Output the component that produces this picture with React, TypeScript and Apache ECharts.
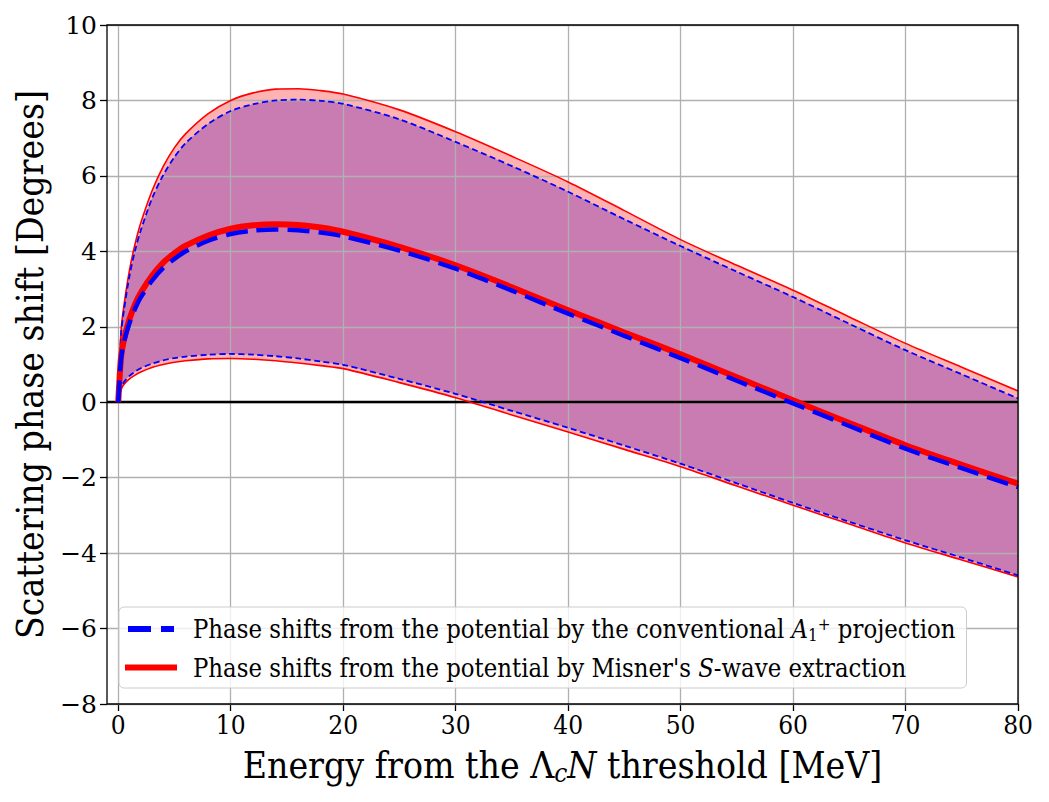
import React, { useEffect, useRef } from "react";
import * as echarts from "echarts";

// Energy above the Lambda_c N threshold [MeV]
const energy = [0, 0.25, 0.5, 1, 1.5, 2, 3, 4, 5, 6, 8, 10, 12, 14, 16, 18, 20, 25, 30, 35, 40, 45, 50, 55, 60, 65, 70, 75, 80];

// Misner S-wave extraction: central value and error band [deg]
const misnerCentral = [0, 1.2, 1.65, 2.2, 2.6, 2.9, 3.35, 3.7, 3.95, 4.15, 4.42, 4.6, 4.69, 4.72, 4.7, 4.63, 4.52, 4.12, 3.63, 3.05, 2.44, 1.85, 1.27, 0.66, 0.05, -0.55, -1.14, -1.66, -2.16];
const misnerUpper = [0, 1.9, 2.55, 3.5, 4.2, 4.75, 5.6, 6.25, 6.75, 7.12, 7.65, 8.0, 8.2, 8.3, 8.31, 8.26, 8.17, 7.75, 7.17, 6.52, 5.84, 5.08, 4.31, 3.63, 2.97, 2.26, 1.56, 0.93, 0.3];
const misnerLower = [0, 0.33, 0.47, 0.62, 0.72, 0.8, 0.92, 1.0, 1.06, 1.1, 1.15, 1.16, 1.14, 1.1, 1.04, 0.97, 0.89, 0.52, 0.12, -0.34, -0.79, -1.25, -1.71, -2.22, -2.73, -3.23, -3.73, -4.18, -4.63];

// Conventional A1+ projection: central value and error band [deg]
const conventionalCentral = [0, 1.15, 1.58, 2.1, 2.48, 2.78, 3.22, 3.56, 3.8, 4.0, 4.28, 4.46, 4.55, 4.58, 4.56, 4.5, 4.4, 4.02, 3.54, 2.96, 2.35, 1.76, 1.17, 0.57, -0.03, -0.63, -1.23, -1.75, -2.25];
const conventionalUpper = [0, 1.8, 2.42, 3.35, 4.03, 4.55, 5.4, 6.02, 6.5, 6.87, 7.38, 7.72, 7.9, 8.0, 8.02, 7.99, 7.91, 7.5, 6.9, 6.26, 5.58, 4.85, 4.14, 3.46, 2.79, 2.08, 1.38, 0.74, 0.1];
const conventionalLower = [0, 0.38, 0.53, 0.7, 0.81, 0.9, 1.02, 1.11, 1.17, 1.21, 1.26, 1.28, 1.26, 1.22, 1.16, 1.08, 0.99, 0.62, 0.22, -0.23, -0.68, -1.15, -1.63, -2.15, -2.67, -3.17, -3.66, -4.12, -4.59];

const xTicks = [0, 10, 20, 30, 40, 50, 60, 70, 80];
const yTicks = [-8, -6, -4, -2, 0, 2, 4, 6, 8, 10];

const CONV = "Phase shifts from the potential by the conventional A1+ projection";
const MISNER = "Phase shifts from the potential by Misner's S-wave extraction";

const SERIF_C = '"DejaVu Serif Condensed", "DejaVu Serif", serif';
const SERIF = '"DejaVu Serif", serif';

const SMOOTH = 0.3;

const pairs = (ys: number[]) => energy.map((e, i) => [e, ys[i]]);

// Band as a stacked pair: the phase shift goes in the first column so the
// stack is taken along y, the energy goes in the second column.
function bandSeries(stack: string, lo: number[], hi: number[], color: string) {
  const common = {
    type: "line",
    stack,
    stackStrategy: "all",
    encode: { x: 1, y: 0 },
    symbol: "none",
    smooth: SMOOTH,
    silent: true,
    z: 1,
    lineStyle: { width: 0, opacity: 0 },
  };
  return [
    { ...common, name: stack + "-base", data: energy.map((e, i) => [lo[i], e]) },
    {
      ...common,
      name: stack + "-width",
      data: energy.map((e, i) => [hi[i] - lo[i], e]),
      areaStyle: { color, opacity: 0.3 },
    },
  ];
}

function curve(name: string, ys: number[], color: string, width: number, type: any, z: number) {
  return {
    type: "line",
    name,
    data: pairs(ys),
    symbol: "none",
    smooth: SMOOTH,
    silent: true,
    z,
    color,
    lineStyle: { color, width, type },
  };
}

export default function App() {
  const ref = useRef<HTMLDivElement>(null);

  useEffect(() => {
    if (!ref.current) return;
    const chart = echarts.init(ref.current, undefined, { renderer: "svg" });

    const option: any = {
      animation: false,
      backgroundColor: "#ffffff",
      grid: {
        left: 107,
        top: 25,
        width: 911,
        height: 679,
        show: true,
        z: 10,
        backgroundColor: "transparent",
        borderColor: "#000000",
        borderWidth: 1.3,
      },
      xAxis: {
        type: "value",
        min: -1,
        max: 80,
        axisLine: { show: false, onZero: false },
        splitLine: { show: false },
        axisTick: {
          show: true,
          customValues: xTicks,
          length: 7,
          lineStyle: { color: "#000", width: 1.3 },
        },
        axisLabel: {
          customValues: xTicks,
          margin: 8,
          color: "#000",
          fontFamily: SERIF_C,
          fontSize: 26,
        },
        name: "Energy from the {g|Λ}{sub|c}{it|N} threshold [MeV]",
        nameLocation: "middle",
        nameGap: 40,
        nameTextStyle: {
          color: "#000",
          fontFamily: SERIF_C,
          fontSize: 37,
          rich: {
            g: { fontFamily: SERIF_C, fontSize: 37, color: "#000" },
            sub: { fontFamily: SERIF_C, fontSize: 26, fontStyle: "italic", color: "#000", verticalAlign: "bottom", padding: [16, 0, 0, 0] },
            it: { fontFamily: SERIF_C, fontSize: 37, fontStyle: "italic", color: "#000" },
          },
        },
      },
      yAxis: {
        type: "value",
        min: -8,
        max: 10,
        interval: 2,
        axisLine: { show: false, onZero: false },
        splitLine: { show: false },
        axisTick: { show: true, length: 7, lineStyle: { color: "#000", width: 1.3 } },
        axisLabel: {
          margin: 10,
          color: "#000",
          fontFamily: SERIF,
          fontSize: 25,
          formatter: (v: number) => (v < 0 ? "\u2212" + Math.abs(v) : String(v)),
        },
        name: "Scattering phase shift [Degrees]",
        nameLocation: "middle",
        nameRotate: 90,
        nameGap: 55,
        nameTextStyle: { color: "#000", fontFamily: SERIF_C, fontSize: 37 },
      },
      legend: {
        orient: "vertical",
        left: 119,
        top: 607,
        selectedMode: false,
        data: [
          { name: CONV, icon: "path://M0,0h23v6h-23z M33,0h13v6h-13z" },
          { name: MISNER, icon: "path://M0,0h52v6h-52z" },
        ],
        itemWidth: 52,
        itemHeight: 6,
        itemGap: 12,
        padding: [8, 11, 8, 6],
        backgroundColor: "rgba(255,255,255,0.8)",
        borderColor: "#cccccc",
        borderWidth: 1,
        borderRadius: 5,
        textStyle: {
          color: "#000",
          fontFamily: SERIF_C,
          fontSize: 25.4,
          padding: [0, 0, 0, 11],
          rich: {
            t: { fontFamily: SERIF_C, fontSize: 25.4, color: "#000", lineHeight: 28 },
            it: { fontFamily: SERIF_C, fontSize: 25.4, fontStyle: "italic", color: "#000", lineHeight: 28 },
            sub: { fontFamily: SERIF_C, fontSize: 17, color: "#000", verticalAlign: "bottom", lineHeight: 28, padding: [11, 0, 0, 0] },
            sup: { fontFamily: SERIF_C, fontSize: 17, color: "#000", verticalAlign: "top", lineHeight: 28, padding: [0, 0, 11, 0] },
          },
        },
        formatter: (name: string) =>
          name === CONV
            ? "{t|Phase shifts from the potential by the conventional }{it|A}{sub|1}{sup|+}{t| projection}"
            : "{t|Phase shifts from the potential by Misner's }{it|S}{t|-wave extraction}",
      },
      series: [
        ...bandSeries("conv", conventionalLower, conventionalUpper, "#0000ff"),
        ...bandSeries("misner", misnerLower, misnerUpper, "#ff0000"),
        {
          type: "line",
          name: "grid",
          data: [],
          silent: true,
          markLine: {
            z: 1.5,
            silent: true,
            symbol: ["none", "none"],
            label: { show: false },
            lineStyle: { color: "#b0b0b0", width: 1.3, type: "solid" },
            data: [...xTicks.map((v) => ({ xAxis: v })), ...yTicks.map((v) => ({ yAxis: v }))],
          },
        },
        {
          type: "line",
          name: "zero",
          data: [],
          silent: true,
          markLine: {
            z: 1.8,
            silent: true,
            symbol: ["none", "none"],
            label: { show: false },
            lineStyle: { color: "#000000", width: 2.3, type: "solid" },
            data: [{ yAxis: 0 }],
          },
        },
        curve("misner-upper", misnerUpper, "#ff0000", 1.6, "solid", 3),
        curve("misner-lower", misnerLower, "#ff0000", 1.6, "solid", 3),
        curve("conv-upper", conventionalUpper, "#0000ff", 1.8, [6, 3.5], 3),
        curve("conv-lower", conventionalLower, "#0000ff", 1.8, [6, 3.5], 3),
        curve(MISNER, misnerCentral, "#ff0000", 6, "solid", 3),
        curve(CONV, conventionalCentral, "#0000ff", 4.5, [22, 9], 3),
      ],
    };

    chart.setOption(option);
    return () => chart.dispose();
  }, []);

  return (
    <div
      ref={ref}
      style={{ position: "fixed", left: 0, top: 0, width: 1049, height: 802 }}
    />
  );
}
